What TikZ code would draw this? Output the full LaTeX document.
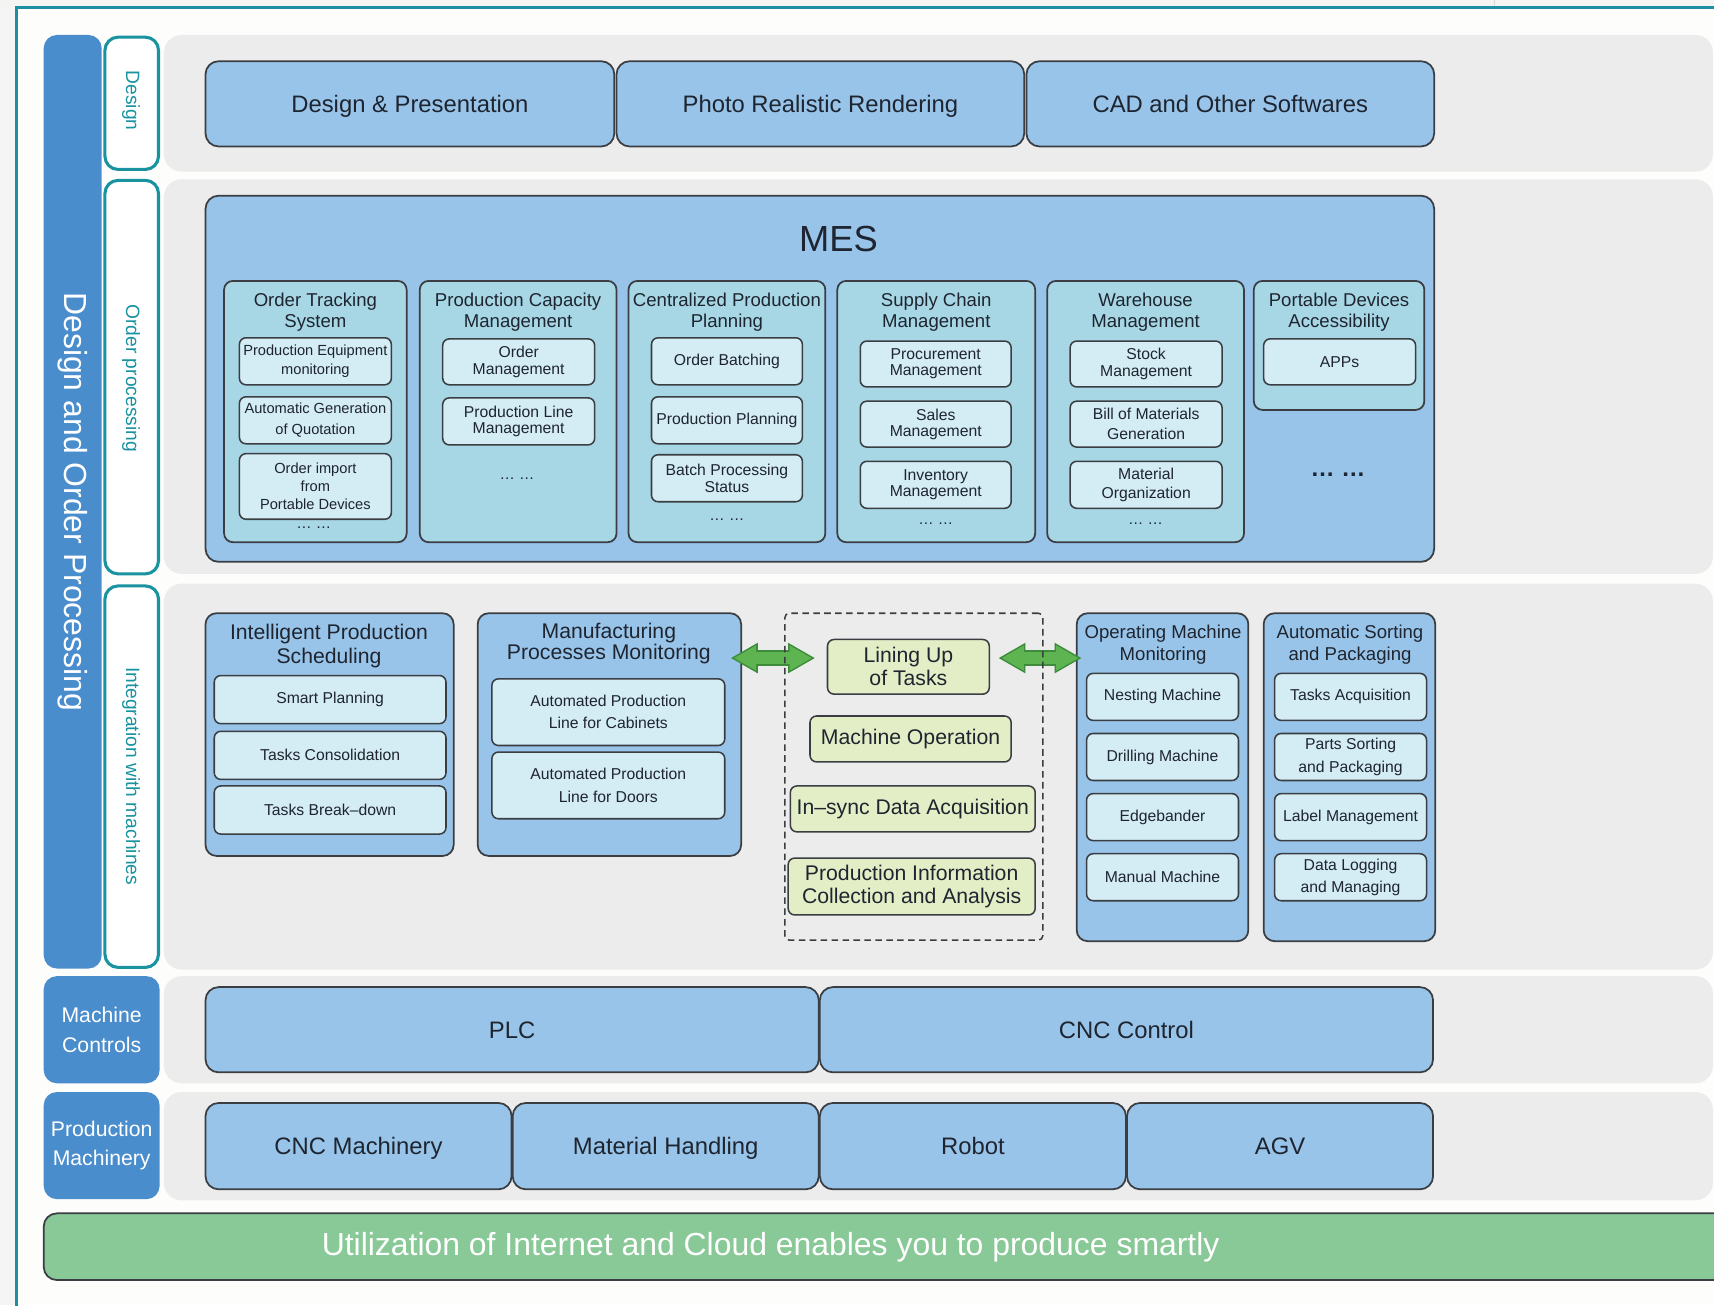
\documentclass[tikz,border=0pt]{standalone}
\usepackage{fontspec}
\setmainfont{Liberation Sans}
\usetikzlibrary{calc,arrows.meta}

\definecolor{paperc}{HTML}{FDFDFB}
\definecolor{topc}{HTML}{F4F4F2}
\definecolor{framec}{HTML}{1C8FA3}
\definecolor{sidec}{HTML}{1993A0}
\definecolor{barc}{HTML}{4A8DCD}
\definecolor{bandc}{HTML}{ECECEC}
\definecolor{boxc}{HTML}{99C4E9}
\definecolor{colc}{HTML}{A7D7E5}
\definecolor{itemc}{HTML}{D4ECF4}
\definecolor{linec}{HTML}{3A3D42}
\definecolor{txtc}{HTML}{1E2530}
\definecolor{taskc}{HTML}{E3EEC6}
\definecolor{cloudc}{HTML}{89C897}
\definecolor{arrowc}{HTML}{5DB450}
\definecolor{arrowdk}{HTML}{3C8C3C}

\begin{document}
\begin{tikzpicture}[x=0.5pt, y=-0.5pt,
    corners/.style args={#1/#2/#3/#4}{minimum width={(#3-#1)*0.5pt}, minimum height={(#4-#2)*0.5pt},
      at={({(#1+#3)/2},{(#2+#4)/2})}},
    box/.style={draw=linec, line width=0.8pt, rounded corners=6pt, inner sep=0pt, align=center, text=txtc},
    bigbox/.style={box, fill=boxc, text height=7.8pt, text depth=0pt, font=\fontsize{10.9}{13}\selectfont},
    grpbox/.style={box, fill=boxc, rounded corners=5pt},
    colbox/.style={box, fill=colc, rounded corners=4pt},
    itembox/.style={box, fill=itemc, rounded corners=3pt, line width=0.7pt, font=\fontsize{7.2}{7.5}\selectfont},
    taskbox/.style={box, fill=taskc, rounded corners=3pt, line width=0.7pt, font=\fontsize{9.7}{10.5}\selectfont},
    sidebox/.style={draw=sidec, line width=1.4pt, fill=white, rounded corners=6pt, inner sep=0pt},
    sidetext/.style={text=sidec, rotate=-90, font=\fontsize{8.8}{10}\selectfont},
    barbox/.style={fill=barc, rounded corners=6pt, inner sep=0pt, text=white, align=center, font=\fontsize{9.7}{13.5}\selectfont},
    coltitle/.style={align=center, text=txtc, font=\fontsize{8.5}{9.6}\selectfont},
    grptitle/.style={align=center, text=txtc, font=\fontsize{9.7}{11}\selectfont},
    moredots/.style={text=txtc, font=\fontsize{7}{8}\selectfont},
    arrowout/.style={draw=arrowdk, line width=7pt,
      {Triangle[width=14pt,length=12.2pt,line width=0pt]}-{Triangle[width=14pt,length=12.2pt,line width=0pt]}},
    arrowin/.style={draw=arrowc, line width=5.6pt, shorten <=1.4pt, shorten >=1.4pt,
      {Triangle[width=11.6pt,length=10.1pt,line width=0pt]}-{Triangle[width=11.6pt,length=10.1pt,line width=0pt]}}]
  \useasboundingbox (0,0) rectangle (1568,1194);
  \clip (0,0) rectangle (1568,1194);
  \fill[paperc] (0,0) rectangle (1568,1194);
  \fill[topc] (0,0) rectangle (1568,7);
  \fill[gray!8] (0,7) rectangle (14,1194);
  \draw[gray!30, line width=0.6pt] (1367,0) -- (1367,7);
  \draw[framec, line width=1.2pt] (15,1210) -- (15,7) -- (1580,7);
  \foreach \ya/\yb in {32/157, 164/525, 534/887, 893/991, 999/1098}
    \fill[bandc, rounded corners=8pt] (150,\ya) rectangle (1567,\yb);

  \node[barbox, corners=40/32/93/886] (dop) {};
  \node[rotate=-90, text=white, font=\fontsize{14.6}{16}\selectfont] (dop-t) at (67,459) {Design and Order Processing};
  \foreach \n/\ya/\yb/\y/\t in {sdes/34/155/92/Design, sord/165/525/346/Order processing, sint/536/885/710/Integration with machines}
  {
    \node[sidebox, corners=96/\ya/145/\yb] (\n) {};
    \node[sidetext] (\n-t) at (120,\y) {\t};
  }
  \node[barbox, corners=40/893/146/991] (mctrl) {Machine\\Controls};
  \node[barbox, corners=40/999/146/1097] (pmach) {Production\\Machinery};

  \foreach \n/\xa/\xb/\t in {dpres/188/562/{Design \& Presentation}, prr/564/937/{Photo Realistic Rendering}, cad/939/1312/{CAD and Other Softwares}}
    \node[bigbox, corners=\xa/56/\xb/134] (\n) {\t};

  \node[box, fill=boxc, corners=188/179/1312/514] (mes) {};
  \node[text=txtc, font=\fontsize{16.6}{18}\selectfont] (mes-t) at (767,219) {MES};
  \foreach \n/\xa/\xb/\yb/\t in {ots/205/372/496/{Order Tracking\\System}, pcm/384/564/496/{Production Capacity\\Management}, cpp/575/755/496/{Centralized Production\\Planning}, scm/766/947/496/{Supply Chain\\Management}, whm/958/1138/496/{Warehouse\\Management}, pda/1147/1303/375/{Portable Devices\\Accessibility}}
  {
    \node[colbox, corners=\xa/257/\xb/\yb] (\n) {};
    \node[coltitle] (\n-t) at ({(\xa+\xb)/2},286) {\t};
  }
  \foreach \n/\ya/\yb/\t in {ots1/309/352/{Production Equipment\\monitoring}, ots2/363/406/{Automatic Generation\\[1.2pt]of Quotation}, ots3/415/475/{Order import\\from\\Portable Devices}}
    \node[itembox, font=\fontsize{6.7}{8.3}\selectfont, corners=219/\ya/358/\yb] (\n) {\t};
  \foreach \n/\xa/\ya/\xb/\yb/\t in {pcm1/405/310/544/352/{Order\\Management}, pcm2/405/364/544/407/{Production Line\\Management},
      cpp1/596/309/734/352/{Order Batching}, cpp2/596/363/734/406/{Production Planning}, cpp3/596/416/734/459/{Batch Processing\\Status},
      scm1/787/312/925/354/{Procurement\\Management}, scm2/787/367/925/409/{Sales\\Management}, scm3/787/422/925/465/{Inventory\\Management},
      whm1/979/312/1118/354/{Stock\\Management}, whm2/979/367/1118/409/{Bill of Materials\\[1.5pt]Generation}, whm3/979/422/1118/465/{Material\\[1.5pt]Organization},
      pda1/1156/310/1295/352/{APPs}}
    \node[itembox, corners=\xa/\ya/\xb/\yb] (\n) {\t};
  \foreach \n/\x/\y in {ots/287/483, pcm/473/438, cpp/665/475, scm/856/479, whm/1048/479, ips/301/774, omm/1062/841, asp/1234/841}
    \node[moredots] (\n-dots) at (\x,\y) {… …};
  \node[moredots, font=\bfseries\fontsize{11}{12}\selectfont] (mes-dots) at (1224,434) {… …};

  \node[grpbox, corners=188/561/415/783] (ips) {};
  \node[grptitle] (ips-t) at (301,591) {Intelligent Production\\Scheduling};
  \node[grpbox, corners=437/561/678/783] (mpm) {};
  \node[grptitle, font=\fontsize{9.7}{9.6}\selectfont] (mpm-t) at (557,589) {Manufacturing\\Processes Monitoring};
  \node[grpbox, corners=985/561/1142/861] (omm) {};
  \node[coltitle, font=\fontsize{8.5}{10}\selectfont] (omm-t) at (1064,590) {Operating Machine\\Monitoring};
  \node[grpbox, corners=1156/561/1313/861] (asp) {};
  \node[coltitle, font=\fontsize{8.5}{10}\selectfont] (asp-t) at (1235,590) {Automatic Sorting\\and Packaging};
  \foreach \n/\xa/\ya/\xb/\yb/\t in {ips1/196/618/408/662/{Smart Planning}, ips2/196/669/408/713/{Tasks Consolidation}, ips3/196/719/408/763/{Tasks Break–down},
      mpm1/450/621/663/682/{Automated Production\\Line for Cabinets}, mpm2/450/688/663/749/{Automated Production\\Line for Doors},
      omm1/994/616/1133/659/{Nesting Machine}, omm2/994/671/1133/714/{Drilling Machine}, omm3/994/726/1133/769/{Edgebander}, omm4/994/781/1133/824/{Manual Machine},
      asp1/1166/616/1305/659/{Tasks Acquisition}, asp2/1166/671/1305/714/{Parts Sorting\\and Packaging}, asp3/1166/726/1305/769/{Label Management}, asp4/1166/781/1305/824/{Data Logging\\and Managing}}
    \node[itembox, font=\fontsize{7.2}{10.2}\selectfont, corners=\xa/\ya/\xb/\yb] (\n) {\t};

  \node[taskbox, corners=757/585/905/635] (lu) {Lining Up\\of Tasks};
  \node[taskbox, corners=741/655/925/697] (mo) {Machine Operation};
  \node[taskbox, corners=723/719/947/761] (ids) {In–sync Data Acquisition};
  \node[taskbox, corners=721/785/947/837] (pica) {Production Information\\Collection and Analysis};

  \draw[arrowout] ($(mpm.east |- lu.west)+(-10,-8)$) -- ($(lu.west)+(-11,-8)$);
  \draw[arrowin] ($(mpm.east |- lu.west)+(-10,-8)$) -- ($(lu.west)+(-11,-8)$);
  \draw[arrowout] ($(lu.east)+(8,-8)$) -- ($(omm.west |- lu.east)+(5,-8)$);
  \draw[arrowin] ($(lu.east)+(8,-8)$) -- ($(omm.west |- lu.east)+(5,-8)$);
  \node[draw=linec, line width=0.7pt, dash pattern=on 3pt off 2pt, rounded corners=2pt, inner sep=0pt, corners=718/561/954/860] (sync) {};

  \foreach \n/\xa/\xb/\t in {plc/188/749/PLC, cncc/750/1311/CNC Control}
    \node[bigbox, corners=\xa/903/\xb/981] (\n) {\t};
  \foreach \n/\xa/\xb/\t in {cncm/188/468/CNC Machinery, mh/469/749/Material Handling, robot/750/1030/Robot, agv/1031/1311/AGV}
    \node[bigbox, corners=\xa/1009/\xb/1088] (\n) {\t};

  \node[box, fill=cloudc, corners=40/1110/1620/1171] (cloud) {};
  \node[text=white, font=\fontsize{14.6}{16}\selectfont] (cloud-t) at (705,1141) {Utilization of Internet and Cloud enables you to produce smartly};
\end{tikzpicture}
\end{document}
